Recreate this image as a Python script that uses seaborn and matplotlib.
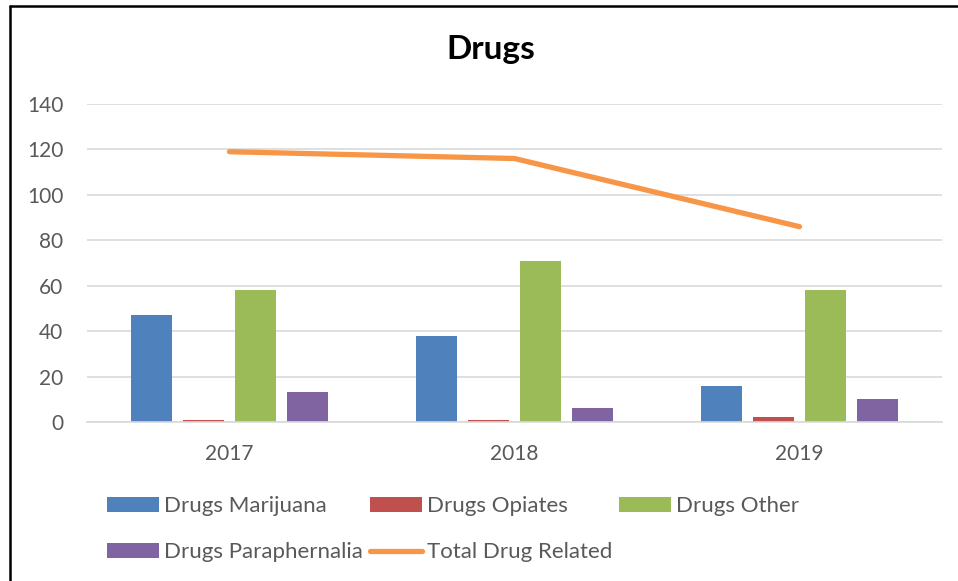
import pandas as pd
import seaborn as sns
import matplotlib.pyplot as plt
from matplotlib.lines import Line2D

years = ["2017", "2018", "2019"]
marijuana = [47, 38, 16]
opiates = [1, 1, 2]
other = [58, 71, 58]
paraphernalia = [13, 6, 10]
total_related = [119, 116, 86]

series_names = ["Drugs Marijuana", "Drugs Opiates", "Drugs Other", "Drugs Paraphernalia"]
colors = ["#4F81BD", "#C0504D", "#9BBB59", "#8064A2"]
line_color = "#F79646"
txt = "#595959"

rows = []
for name, vals in zip(series_names, [marijuana, opiates, other, paraphernalia]):
    for y, v in zip(years, vals):
        rows.append({"year": y, "type": name, "count": v})
df = pd.DataFrame(rows)

sns.set_style("white")
plt.rcParams["font.family"] = ["Lato", "DejaVu Sans"]

fig = plt.figure(figsize=(9.58, 5.81), dpi=100)
ax = fig.add_axes([87 / 958, 1 - 422 / 581, (942 - 87) / 958, (422 - 104) / 581])

sns.barplot(data=df, x="year", y="count", hue="type", hue_order=series_names,
            palette=colors, saturation=1, width=0.73, gap=0.23, linewidth=0,
            ax=ax)
sns.pointplot(x=years, y=total_related, color=line_color, markers="",
              linewidth=3.8, ax=ax, label="Total Drug Related")

ax.set_ylim(0, 140)
ax.set_yticks(range(0, 141, 20))
ax.set_xlabel("")
ax.set_ylabel("")
ax.grid(axis="y", color="#D9D9D9", linewidth=1.2)
ax.set_axisbelow(True)
for s in ["top", "right", "left"]:
    ax.spines[s].set_visible(False)
ax.spines["bottom"].set_color("#D9D9D9")
ax.spines["bottom"].set_linewidth(1.2)
ax.tick_params(axis="both", length=0, labelsize=15, colors=txt)
ax.tick_params(axis="y", pad=17)
ax.tick_params(axis="x", pad=16)

# legend: column-fill order so rows read like the original
handles, labels = ax.get_legend_handles_labels()
lookup = dict(zip(labels, handles))
lookup["Total Drug Related"] = Line2D([], [], color=line_color, linewidth=3.8,
                                      solid_capstyle="round")
order = ["Drugs Marijuana", "Drugs Paraphernalia", "Drugs Opiates",
         "Total Drug Related", "Drugs Other"]
if ax.get_legend() is not None:
    ax.get_legend().remove()
fig.legend([lookup[k] for k in order], order, ncol=3, frameon=False,
           loc="upper left", bbox_to_anchor=(107 / 958, 1 - 496 / 581),
           borderaxespad=0, borderpad=0, fontsize=16, labelcolor=txt,
           handlelength=2.35, handleheight=0.65, handletextpad=0.22,
           columnspacing=0.3, labelspacing=1.18)

fig.text(491 / 958, 1 - 50 / 581, "Drugs", ha="center", va="center",
         fontsize=24, fontweight="bold", color="black")

# chart frame (top and left edges visible in the crop)
fig.add_artist(Line2D([10 / 958, 1], [1 - 6 / 581, 1 - 6 / 581],
                      transform=fig.transFigure, color="black", linewidth=1.8))
fig.add_artist(Line2D([10 / 958, 10 / 958], [0, 1 - 6 / 581],
                      transform=fig.transFigure, color="black", linewidth=1.8))

fig.savefig("out.png", dpi=100)
